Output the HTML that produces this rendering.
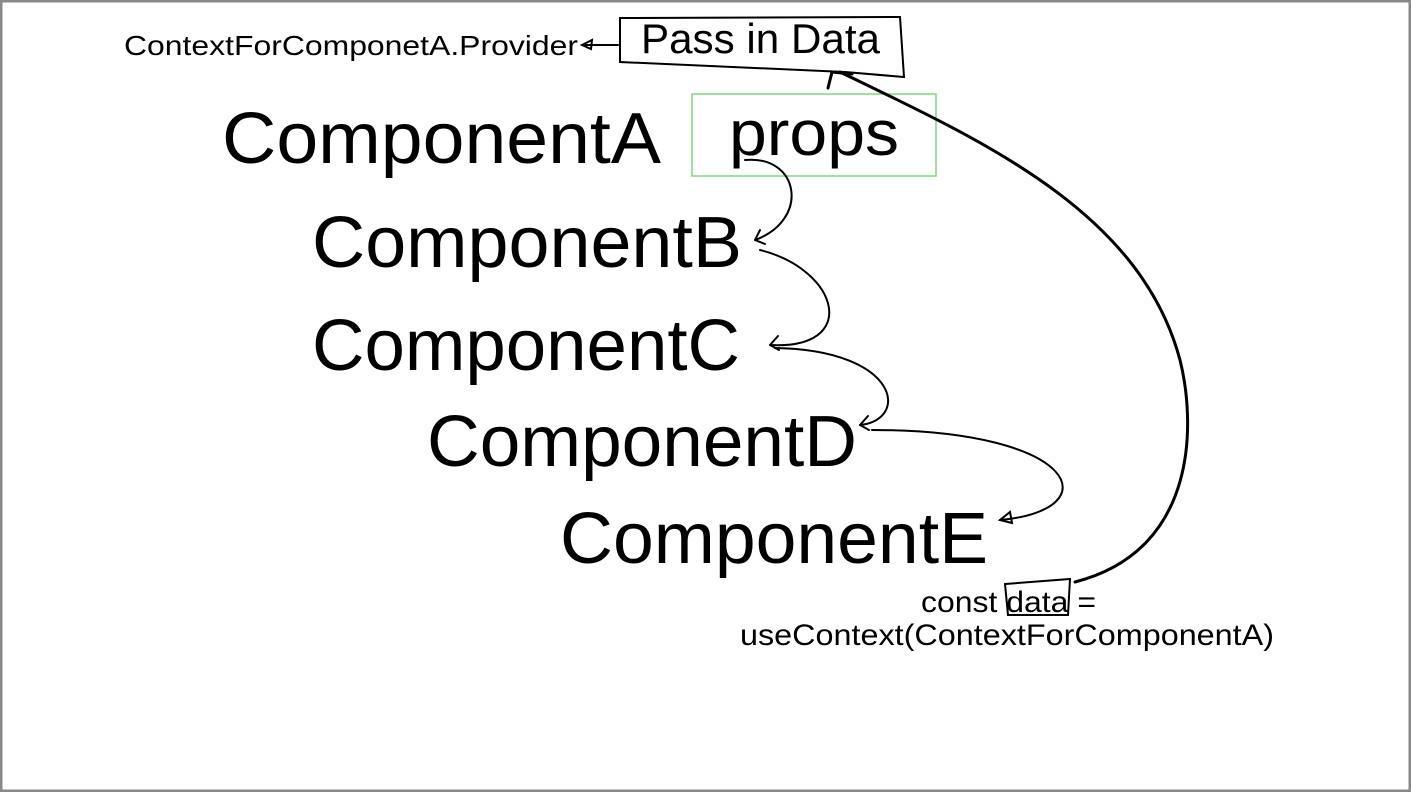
<!DOCTYPE html>
<html><head><meta charset="utf-8"><style>
html,body{margin:0;padding:0;background:#fff;}
svg{display:block;}
text{font-family:"Liberation Sans",sans-serif;fill:#000;}
</style></head><body>
<svg width="1411" height="792" viewBox="0 0 1411 792" xmlns="http://www.w3.org/2000/svg">
<rect x="1" y="1" width="1409" height="790" fill="#fff" stroke="#888" stroke-width="3"/>
<text x="124" y="55" font-size="28" textLength="454" lengthAdjust="spacingAndGlyphs">ContextForComponetA.Provider</text>
<text x="641" y="53" font-size="42" textLength="239" lengthAdjust="spacingAndGlyphs">Pass in Data</text>
<text x="222" y="163" font-size="72" textLength="439" lengthAdjust="spacingAndGlyphs">ComponentA</text>
<text x="729" y="155" font-size="64" textLength="170" lengthAdjust="spacingAndGlyphs">props</text>
<text x="312" y="267" font-size="72" textLength="430" lengthAdjust="spacingAndGlyphs">ComponentB</text>
<text x="312" y="370" font-size="72" textLength="428" lengthAdjust="spacingAndGlyphs">ComponentC</text>
<text x="427" y="466" font-size="72" textLength="430" lengthAdjust="spacingAndGlyphs">ComponentD</text>
<text x="560" y="563" font-size="72" textLength="428" lengthAdjust="spacingAndGlyphs">ComponentE</text>
<text x="921" y="612" font-size="30" textLength="175" lengthAdjust="spacingAndGlyphs">const data =</text>
<text x="740" y="645" font-size="30" textLength="534" lengthAdjust="spacingAndGlyphs">useContext(ContextForComponentA)</text>
<rect x="692" y="94" width="244" height="82" fill="none" stroke="#7fd97f" stroke-width="1.5"/>
<g fill="none" stroke="#000" stroke-width="2" stroke-linecap="round">
<path d="M620 18 L900 17 L904 77 L845 72 L620 62 Z"/>
<path d="M618 45 L582 45"/>
<path d="M582 45 L592 40 L591 49 Z"/>
<path d="M745 160 C800 155 810 220 755 240"/>
<path d="M755 240 L760 230 M755 240 L765 244"/>
<path d="M760 250 C840 270 860 350 770 345"/>
<path d="M770 345 L778 336 M770 345 L779 350"/>
<path d="M775 348 C900 350 910 420 860 425"/>
<path d="M860 425 L868 416 M860 425 L869 430"/>
<path d="M872 430 C1080 430 1110 510 1000 520"/>
<path d="M1000 520 L1010 512 L1012 523 Z"/>
<path d="M1075 582 C1200 550 1195 420 1180 360 C1140 210 980 140 840 72" stroke-width="3"/>
<path d="M828 88 L832 72 L852 74" stroke-width="3"/>
<path d="M1005 584 L1070 579 L1068 615 L1008 615 Z"/>
</g>
</svg>
</body></html>
